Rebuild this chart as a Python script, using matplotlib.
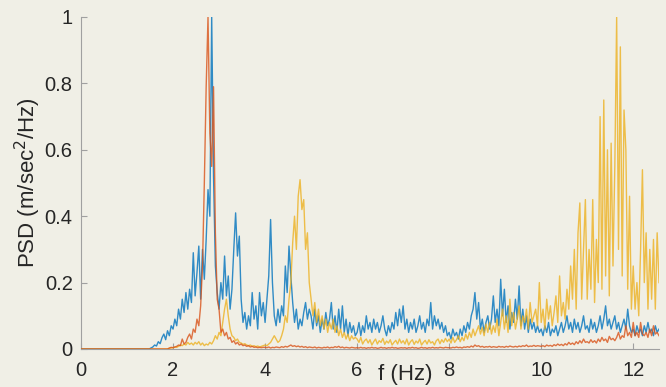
import numpy as np
import matplotlib
matplotlib.use("Agg")
import matplotlib.pyplot as plt

# frequency bins (Hz), 0.04 Hz apart, one row of 25 values per Hz below
freq = np.linspace(0, 12.56, 315)

blue = [
    # 0-1 Hz
    0, 0, 0, 0, 0, 0, 0, 0, 0, 0, 0, 0, 0, 0, 0, 0, 0, 0, 0, 0, 0, 0, 0, 0, 0,
    # 1-2
    0, 0, 0, 0, 0, 0, 0, 0, 0, 0, 0, 0, 0, 0.003, 0.006, 0.012, 0.009, 0.022, 0.016, 0.034, 0.045, 0.028, 0.055, 0.04, 0.07,
    # 2-3
    0.06, 0.09, 0.07, 0.12, 0.09, 0.15, 0.11, 0.17, 0.12, 0.18, 0.14, 0.29, 0.16, 0.23, 0.31, 0.15, 0.30, 0.21, 0.33, 0.48, 0.40, 1.0, 0.52, 0.25, 0.17,
    # 3-4
    0.12, 0.2, 0.15, 0.28, 0.16, 0.22, 0.12, 0.18, 0.3, 0.41, 0.28, 0.34, 0.15, 0.08, 0.11, 0.06, 0.1, 0.07, 0.17, 0.09, 0.13, 0.06, 0.17, 0.1, 0.14,
    # 4-5
    0.08, 0.15, 0.22, 0.39, 0.2, 0.1, 0.07, 0.12, 0.08, 0.13, 0.1, 0.25, 0.17, 0.31, 0.22, 0.14, 0.08, 0.12, 0.06, 0.09, 0.07, 0.11, 0.14, 0.09, 0.12,
    # 5-6
    0.1, 0.06, 0.12, 0.07, 0.1, 0.05, 0.09, 0.06, 0.11, 0.07, 0.09, 0.14, 0.06, 0.1, 0.05, 0.12, 0.06, 0.13, 0.05, 0.09, 0.04, 0.08, 0.05, 0.07, 0.04,
    # 6-7
    0.05, 0.08, 0.04, 0.07, 0.05, 0.1, 0.06, 0.08, 0.05, 0.09, 0.06, 0.08, 0.05, 0.07, 0.1, 0.06, 0.04, 0.07, 0.05, 0.08, 0.06, 0.11, 0.07, 0.12, 0.08,
    # 7-8
    0.13, 0.06, 0.09, 0.05, 0.08, 0.06, 0.09, 0.05, 0.07, 0.1, 0.06, 0.08, 0.05, 0.09, 0.07, 0.14, 0.06, 0.1, 0.07, 0.09, 0.06, 0.08, 0.05, 0.07, 0.04,
    # 8-9
    0.05, 0.03, 0.06, 0.04, 0.05, 0.03, 0.06, 0.04, 0.07, 0.05, 0.08, 0.06, 0.1, 0.12, 0.17, 0.09, 0.14, 0.06, 0.09, 0.05, 0.08, 0.1, 0.06, 0.09, 0.16,
    # 9-10
    0.08, 0.12, 0.07, 0.21, 0.1, 0.18, 0.08, 0.13, 0.06, 0.11, 0.08, 0.15, 0.09, 0.19, 0.07, 0.12, 0.06, 0.1, 0.05, 0.09, 0.06, 0.08, 0.05, 0.07, 0.05,
    # 10-11
    0.06, 0.04, 0.07, 0.05, 0.08, 0.04, 0.06, 0.05, 0.07, 0.04, 0.06, 0.08, 0.05, 0.07, 0.1, 0.06, 0.08, 0.05, 0.09, 0.06, 0.08, 0.05, 0.07, 0.1, 0.06,
    # 11-12
    0.07, 0.05, 0.09, 0.06, 0.08, 0.05, 0.07, 0.1, 0.06, 0.09, 0.13, 0.07, 0.09, 0.06, 0.08, 0.1, 0.06, 0.08, 0.05, 0.07, 0.09, 0.06, 0.12, 0.07, 0.05,
    # 12-12.56
    0.06, 0.04, 0.07, 0.05, 0.06, 0.04, 0.07, 0.05, 0.08, 0.05, 0.06, 0.04, 0.07, 0.05, 0.06,
]

red = [
    0, 0, 0, 0, 0, 0, 0, 0, 0, 0, 0, 0, 0, 0, 0, 0, 0, 0, 0, 0, 0, 0, 0, 0, 0,
    0, 0, 0, 0, 0, 0, 0, 0, 0, 0, 0, 0, 0, 0, 0, 0, 0, 0, 0, 0, 0, 0, 0, 0.003, 0.005,
    0.004, 0.006, 0.008, 0.012, 0.01, 0.03, 0.015, 0.02, 0.035, 0.045, 0.03, 0.06, 0.05, 0.09, 0.07, 0.13, 0.25, 0.5, 0.79, 1.0, 0.65, 0.55, 0.79, 0.35, 0.15,
    0.12, 0.05, 0.06, 0.04, 0.05, 0.03, 0.035, 0.02, 0.025, 0.015, 0.02, 0.012, 0.015, 0.01, 0.012, 0.008, 0.01, 0.006, 0.008, 0.005, 0.006, 0.004, 0.005, 0.004, 0.005,
    0.005, 0.004, 0.006, 0.003, 0.005, 0.004, 0.006, 0.005, 0.004, 0.007, 0.005, 0.008, 0.006, 0.009, 0.012, 0.008, 0.01, 0.007, 0.009, 0.006, 0.008, 0.005, 0.007, 0.004, 0.006,
    0.005, 0.004, 0.006, 0.003, 0.005, 0.004, 0.003, 0.005, 0.004, 0.006, 0.003, 0.005, 0.004, 0.007, 0.005, 0.008, 0.004, 0.006, 0.003, 0.005, 0.004, 0.003, 0.005, 0.004, 0.003,
    0.004, 0.003, 0.005, 0.003, 0.004, 0.002, 0.004, 0.003, 0.005, 0.003, 0.004, 0.002, 0.003, 0.005, 0.003, 0.004, 0.002, 0.004, 0.003, 0.005, 0.003, 0.004, 0.002, 0.003, 0.004,
    0.003, 0.004, 0.002, 0.004, 0.003, 0.005, 0.003, 0.004, 0.002, 0.003, 0.005, 0.003, 0.004, 0.002, 0.004, 0.003, 0.005, 0.003, 0.004, 0.003, 0.005, 0.004, 0.003, 0.005, 0.004,
    0.004, 0.003, 0.005, 0.004, 0.006, 0.004, 0.005, 0.003, 0.006, 0.005, 0.007, 0.005, 0.009, 0.006, 0.012, 0.008, 0.01, 0.006, 0.008, 0.005, 0.007, 0.006, 0.008, 0.005, 0.007,
    0.006, 0.005, 0.008, 0.006, 0.007, 0.005, 0.008, 0.006, 0.009, 0.007, 0.006, 0.008, 0.006, 0.009, 0.007, 0.01, 0.008, 0.012, 0.007, 0.009, 0.008, 0.011, 0.008, 0.01, 0.009,
    0.008, 0.01, 0.007, 0.012, 0.009, 0.011, 0.008, 0.013, 0.01, 0.015, 0.011, 0.014, 0.01, 0.016, 0.012, 0.02, 0.014, 0.018, 0.013, 0.022, 0.016, 0.025, 0.018, 0.03, 0.02,
    0.022, 0.018, 0.028, 0.02, 0.025, 0.018, 0.03, 0.022, 0.035, 0.025, 0.03, 0.02, 0.038, 0.028, 0.032, 0.025, 0.035, 0.05, 0.03, 0.04, 0.035, 0.07, 0.04, 0.05, 0.035,
    0.08, 0.04, 0.05, 0.035, 0.08, 0.045, 0.04, 0.05, 0.035, 0.06, 0.04, 0.07, 0.045, 0.05, 0.04,
]

yellow = [
    0, 0, 0, 0, 0, 0, 0, 0, 0, 0, 0, 0, 0, 0, 0, 0, 0, 0, 0, 0, 0, 0, 0, 0, 0,
    0, 0, 0, 0, 0, 0, 0, 0, 0, 0, 0, 0, 0, 0, 0, 0, 0, 0, 0, 0, 0, 0, 0, 0.002, 0.003,
    0.004, 0.006, 0.005, 0.008, 0.012, 0.01, 0.015, 0.012, 0.02, 0.014, 0.018, 0.012, 0.02, 0.015, 0.022, 0.012, 0.018, 0.01, 0.015, 0.012, 0.02, 0.015, 0.025, 0.04, 0.03,
    0.05, 0.04, 0.08, 0.12, 0.15, 0.1, 0.06, 0.04, 0.035, 0.025, 0.03, 0.02, 0.018, 0.014, 0.016, 0.012, 0.01, 0.012, 0.008, 0.01, 0.007, 0.009, 0.006, 0.008, 0.01,
    0.012, 0.01, 0.015, 0.02, 0.03, 0.04, 0.03, 0.02, 0.025, 0.04, 0.06, 0.1, 0.08, 0.15, 0.2, 0.32, 0.4, 0.3, 0.46, 0.51, 0.42, 0.45, 0.3, 0.35, 0.2,
    0.15, 0.1, 0.14, 0.08, 0.12, 0.07, 0.1, 0.06, 0.09, 0.05, 0.08, 0.06, 0.09, 0.05, 0.07, 0.04, 0.06, 0.035, 0.05, 0.03, 0.045, 0.025, 0.04, 0.03, 0.035,
    0.03, 0.02, 0.035, 0.015, 0.025, 0.03, 0.018, 0.028, 0.012, 0.022, 0.03, 0.015, 0.025, 0.02, 0.032, 0.014, 0.024, 0.018, 0.028, 0.012, 0.02, 0.026, 0.015, 0.03, 0.018,
    0.025, 0.015, 0.03, 0.012, 0.022, 0.028, 0.014, 0.024, 0.018, 0.03, 0.012, 0.02, 0.026, 0.015, 0.028, 0.018, 0.022, 0.012, 0.025, 0.03, 0.016, 0.028, 0.02, 0.032, 0.022,
    0.03, 0.018, 0.035, 0.02, 0.028, 0.04, 0.022, 0.035, 0.025, 0.045, 0.03, 0.05, 0.035, 0.06, 0.04, 0.055, 0.07, 0.045, 0.065, 0.04, 0.075, 0.05, 0.08, 0.045, 0.07,
    0.05, 0.09, 0.04, 0.08, 0.12, 0.06, 0.1, 0.05, 0.15, 0.07, 0.11, 0.06, 0.09, 0.13, 0.06, 0.1, 0.08, 0.12, 0.06, 0.14, 0.08, 0.1, 0.12, 0.07, 0.2,
    0.08, 0.12, 0.06, 0.15, 0.09, 0.13, 0.07, 0.11, 0.16, 0.08, 0.22, 0.1, 0.14, 0.09, 0.18, 0.12, 0.25, 0.15, 0.3, 0.12, 0.35, 0.44, 0.15, 0.3, 0.45,
    0.15, 0.3, 0.18, 0.45, 0.14, 0.33, 0.2, 0.7, 0.18, 0.75, 0.22, 0.6, 0.16, 0.62, 0.25, 0.55, 1.0, 0.3, 0.91, 0.22, 0.72, 0.6, 0.18, 0.46, 0.12,
    0.25, 0.12, 0.2, 0.1, 0.3, 0.54, 0.2, 0.35, 0.12, 0.3, 0.15, 0.33, 0.12, 0.35, 0.2,
]

bg = '#f0efe6'
txt = '#262626'

plt.rcParams['font.family'] = ['Liberation Sans', 'DejaVu Sans']

fig = plt.figure(figsize=(6.66, 3.87), dpi=100, facecolor=bg)
ax = fig.add_axes([81/666, 38/387, 578/666, 332/387], facecolor=bg)

ax.plot(freq, blue, color='#0072BD', lw=1.0, alpha=0.8, zorder=3)
ax.plot(freq, yellow, color='#EDB120', lw=1.0, alpha=0.8, zorder=4)
ax.plot(freq, red, color='#D95319', lw=1.0, alpha=0.8, zorder=5)

ax.set_xlim(0, 12.56)
ax.set_ylim(0, 1)
ax.set_xticks([0, 2, 4, 6, 8, 10, 12])
ax.set_yticks([0, 0.2, 0.4, 0.6, 0.8, 1])
ax.set_yticklabels(['0', '0.2', '0.4', '0.6', '0.8', '1'])

for s in ['top', 'right']:
    ax.spines[s].set_visible(False)
for s in ['left', 'bottom']:
    ax.spines[s].set_color('#a0a0a0')
    ax.spines[s].set_linewidth(0.8)

ax.tick_params(axis='both', direction='in', length=4, width=0.8, color='#a0a0a0',
               labelsize=14.5, labelcolor=txt)
ax.tick_params(axis='x', pad=9)
ax.tick_params(axis='y', pad=6)

ax.set_xlabel('f (Hz)', fontsize=16, color=txt)
ax.xaxis.set_label_coords(0.561, -0.045)
ax.set_ylabel('PSD (m/sec$^2$/Hz)', fontsize=16, color=txt)
ax.yaxis.set_label_coords(-0.066, 0.5)

fig.savefig('out.png', dpi=100, facecolor=bg)
